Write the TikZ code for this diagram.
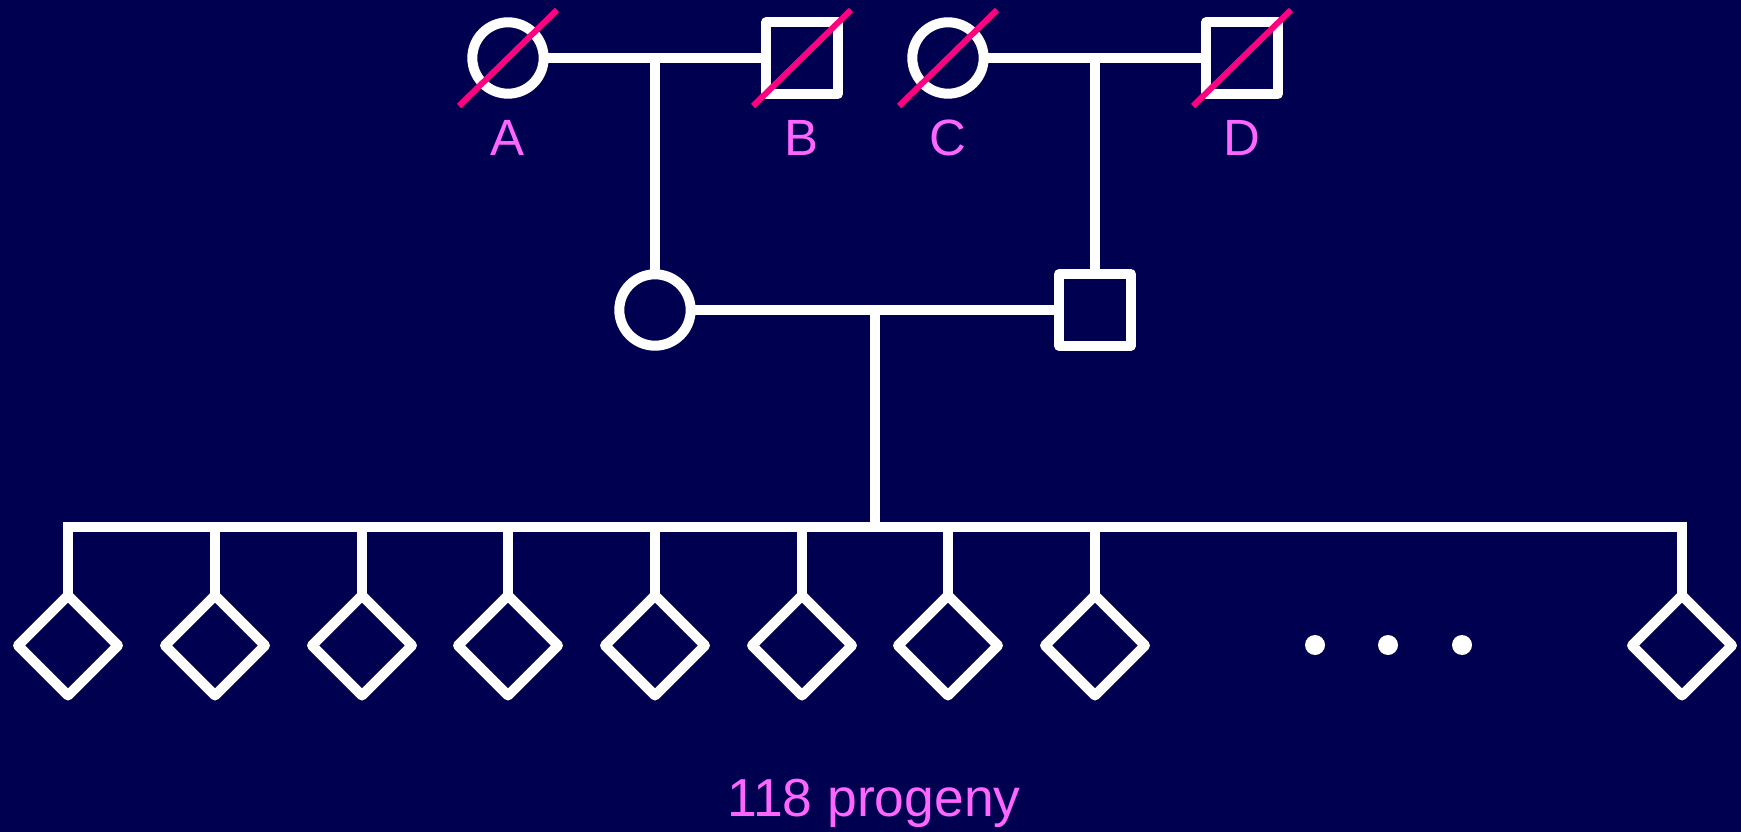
\documentclass[tikz,border=0pt]{standalone}
\usepackage{fontspec}
\setmainfont{Liberation Sans}
\usetikzlibrary{shapes.geometric}
\definecolor{bgnavy}{RGB}{0,0,80}
\definecolor{slashpink}{RGB}{255,0,128}
\definecolor{labelpink}{RGB}{255,102,255}
\tikzset{
  person/.style={draw=white, line width=10pt, line join=round, inner sep=0pt, outer sep=0pt},
  female/.style={person, circle, minimum size=71.4pt},
  male/.style={person, rectangle, minimum size=71.7pt},
  child/.style={person, diamond, minimum width=100pt, minimum height=100pt, aspect=1},
  link/.style={draw=white, line width=10pt, line join=miter},
  slash/.style={draw=slashpink, line width=6pt},
  lbl/.style={text=labelpink, font=\fontsize{51}{60}\selectfont, anchor=base, inner sep=0pt},
  dot/.style={fill=white, circle, inner sep=0pt, minimum size=20pt}
}
\begin{document}
\begin{tikzpicture}[x=1pt,y=-1pt]
\fill[bgnavy] (0,0) rectangle (1741,832);
\useasboundingbox (0,0) rectangle (1741,832);
% top generation
\node[female] (A) at (508,58) {};
\node[male]   (B) at (802,58) {};
\node[female] (C) at (948,58) {};
\node[male]   (D) at (1242,58) {};
% middle generation
\node[female] (M) at (655,310) {};
\node[male]   (F) at (1095,310) {};
% children
\foreach \i/\x in {1/68,2/215,3/362,4/508,5/655,6/802,7/948,8/1095,9/1682}{
  \node[child] (k\i) at (\x,645.5) {};
}
% dots
\node[dot] (d1) at (1315,645) {};
\node[dot] (d2) at (1388,645) {};
\node[dot] (d3) at (1462,645) {};
% coordinates
\coordinate (ab) at (655,58);
\coordinate (cd) at (1095,58);
\coordinate (mf) at (875,310);
\coordinate (sib) at (875,527);
\coordinate (barL) at (68,527);
\coordinate (barR) at (1682,527);
% connectors
\draw[link] (A.east) -- (B.west);
\draw[link] (C.east) -- (D.west);
\draw[link] (ab) -- (M.north);
\draw[link] (cd) -- (F.north);
\draw[link] (M.east) -- (F.west);
\draw[link] (mf) -- (sib);
\draw[link] (k1.north) -- (barL) -- (barR) -- (k9.north);
\foreach \i in {2,...,8}{
  \draw[link] (k\i.north) -- (k\i.north |- barL);
}
% deceased slashes
\foreach \n in {A,B,C,D}{
  \draw[slash] ([shift={(-49,48)}]\n.center) -- ([shift={(49,-48)}]\n.center);
}
% labels
\node[lbl] (lA) at (508,156) {A};
\node[lbl] (lB) at (802,156) {B};
\node[lbl] (lC) at (948,156) {C};
\node[lbl] (lD) at (1242,156) {D};
\node[lbl, font=\fontsize{53.5}{62}\selectfont] (prog) at (874,816) {118 progeny};
\end{tikzpicture}
\end{document}
